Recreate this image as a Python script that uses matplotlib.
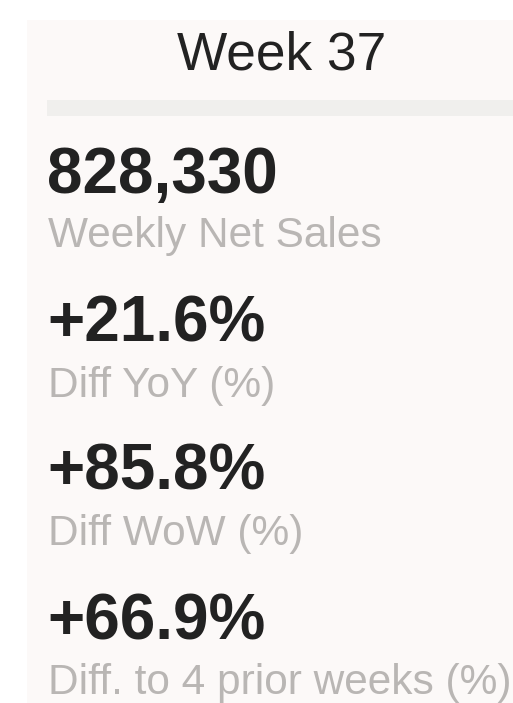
import matplotlib.pyplot as plt
from matplotlib.patches import Rectangle

W, H = 513, 703

title = "Week 37"
kpi_values = ["828,330", "+21.6%", "+85.8%", "+66.9%"]
kpi_labels = ["Weekly Net Sales", "Diff YoY (%)", "Diff WoW (%)", "Diff. to 4 prior weeks (%)"]

CARD_BG = "#fcf9f8"
BAR_BG = "#f0efed"
DARK = "#222222"
GREY = "#b9b6b4"


def fx(px):
    return px / W


def fy(px):
    return 1 - px / H


def main():
    plt.rcParams["font.family"] = ["Liberation Sans", "DejaVu Sans"]
    fig = plt.figure(figsize=(W / 100, H / 100), dpi=100)
    fig.patch.set_facecolor("white")

    # card background and header strip
    fig.add_artist(Rectangle((fx(27), 0), 1 - fx(27), fy(20), transform=fig.transFigure,
                             facecolor=CARD_BG, edgecolor="none"))
    fig.add_artist(Rectangle((fx(47), fy(116)), 1 - fx(47), (116 - 100) / H,
                             transform=fig.transFigure, facecolor=BAR_BG, edgecolor="none"))

    fig.text(fx(282), fy(69), title, ha="center", va="baseline", fontsize=38.3, color=DARK)

    value_base = [193, 341, 490, 639]
    label_base = [247, 397, 545, 694]
    for val, lab, vy, ly in zip(kpi_values, kpi_labels, value_base, label_base):
        fig.text(fx(47), fy(vy), val, ha="left", va="baseline", fontsize=46,
                 fontweight="bold", color=DARK)
        fig.text(fx(48), fy(ly), lab, ha="left", va="baseline", fontsize=30.5, color=GREY)

    fig.savefig("out.png", dpi=100)
    plt.close(fig)


if __name__ == "__main__":
    main()
